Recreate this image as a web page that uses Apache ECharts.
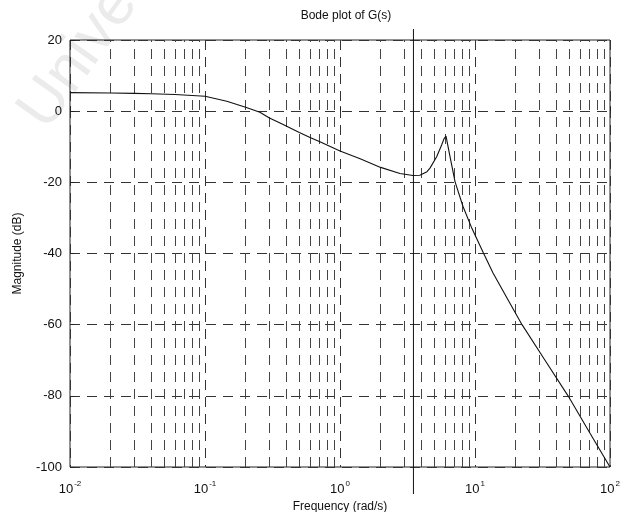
<!DOCTYPE html>
<html>
<head>
<meta charset="utf-8">
<script src="https://cdn.jsdelivr.net/npm/echarts@6/dist/echarts.min.js"></script>
<style>
html,body{margin:0;padding:0;background:#fff;}
#chart{width:620px;height:512px;}
</style>
</head>
<body>
<div id="chart"></div>
<script>
// Frequency (rad/s) samples
const freqs = [0.01, 0.02, 0.03, 0.04, 0.06, 0.1, 0.145, 0.2, 0.255, 0.3, 0.36, 0.5, 0.6, 0.71,
  1.0, 1.41, 2.0, 2.78, 3.47, 3.9, 4.41, 4.64, 5.2, 5.66, 5.89, 6.1, 6.53, 7.11, 8.15, 9.5,
  11.5, 13.6, 17.3, 22.3, 33.0, 48.9, 71.1, 100];
// Magnitude (dB) at those frequencies
const magnitude = [5.2, 5.1, 5.0, 4.9, 4.7, 4.2, 2.8, 1.1, -0.3, -1.9, -3.3, -6.0, -7.4, -8.6,
  -11.2, -13.4, -15.8, -17.5, -18.1, -18.0, -17.0, -16.0, -12.8, -9.5, -7.8, -7.0, -12.8, -19.8, -26.8, -33.0,
  -39.7, -45.5, -52.6, -60.0, -70.0, -80.0, -90.5, -100.0];
// Decade tick labels (exponents) and minor grid frequencies
const decadeExponents = {0.01: '-2', 0.1: '-1', 1: '0', 10: '1', 100: '2'};
const minorFreqs = [];
[0.01, 0.1, 1, 10].forEach(function (d) {
  [2, 3, 4, 5, 6, 7, 8, 9].forEach(function (m) { minorFreqs.push(+(d * m).toPrecision(3)); });
});
// Vertical marker frequency (solid line in the reference)
const markerFreq = 3.5;
const yTicks = {min: -100, max: 20, step: 20};

const chart = echarts.init(document.getElementById('chart'), null, {renderer: 'canvas'});
const FONT = 'Liberation Sans, Arial, sans-serif';
const gridDash = [10, 7];

function expKey(v) {
  const k = Math.round(Math.log10(v));
  const key = Math.pow(10, k);
  return decadeExponents[key] !== undefined ? decadeExponents[key] : String(k);
}

chart.setOption({
  animation: false,
  backgroundColor: '#fff',
  title: {
    text: 'Bode plot of G(s)',
    left: 341, top: 5, textAlign: 'center',
    textStyle: {fontFamily: FONT, fontSize: 12, fontWeight: 'normal', color: '#111'}
  },
  grid: {left: 70, right: 10, top: 40, bottom: 45, outerBoundsMode: 'none', containLabel: false,
    show: true, borderColor: '#222', borderWidth: 1, backgroundColor: 'transparent'},
  xAxis: {
    type: 'log', logBase: 10, min: 0.01, max: 100,
    name: 'Frequency (rad/s)', nameLocation: 'middle', nameGap: 29,
    nameTextStyle: {fontFamily: FONT, fontSize: 12, color: '#111'},
    axisLine: {show: false},
    axisTick: {show: true, inside: true, length: 5, lineStyle: {color: '#222'}},
    axisLabel: {
      margin: 13,
      fontFamily: FONT,
      formatter: function (v) { return '{a|10}{b|' + expKey(v) + '}'; },
      rich: {
        a: {fontFamily: FONT, fontSize: 13, color: '#111', verticalAlign: 'bottom'},
        b: {fontFamily: FONT, fontSize: 8, color: '#111', verticalAlign: 'bottom', padding: [0, 0, 8, 1]}
      }
    },
    splitLine: {show: true, lineStyle: {type: gridDash, color: '#333', width: 1}}
  },
  yAxis: {
    type: 'value', min: yTicks.min, max: yTicks.max, interval: yTicks.step,
    name: 'Magnitude (dB)', nameLocation: 'middle', nameGap: 46, nameRotate: 90,
    nameTextStyle: {fontFamily: FONT, fontSize: 12, color: '#111'},
    axisLine: {show: false},
    axisTick: {show: true, inside: true, length: 5, lineStyle: {color: '#222'}},
    axisLabel: {margin: 8, fontFamily: FONT, fontSize: 13, color: '#111'},
    splitLine: {show: true, lineStyle: {type: gridDash, color: '#333', width: 1}}
  },
  series: [{
    type: 'line',
    data: freqs.map(function (f, i) { return [f, magnitude[i]]; }),
    showSymbol: false, symbol: 'none',
    lineStyle: {color: '#111', width: 1.1},
    silent: true,
    z: 5,
    markLine: {
      silent: true, symbol: 'none', animation: false,
      label: {show: false},
      lineStyle: {type: gridDash, color: '#444', width: 1},
      emphasis: {disabled: true},
      data: minorFreqs.map(function (f) { return {xAxis: f}; })
    }
  }]
});

const mx = chart.convertToPixel({xAxisIndex: 0}, markerFreq);
const gTop = 40, gBottom = 512 - 45;
chart.setOption({
  graphic: [
    {
      type: 'text', x: 58, y: 140, rotation: 0.95, z: -10, silent: true,
      style: {text: 'Universi', fontFamily: FONT, fontSize: 62, fill: '#ebebeb', textVerticalAlign: 'bottom'}
    },
    {
      type: 'line', silent: true, z: 10,
      shape: {x1: mx, y1: gTop - 11, x2: mx, y2: gBottom + 27},
      style: {stroke: '#111', lineWidth: 1}
    }
  ]
});
</script>
</body>
</html>
